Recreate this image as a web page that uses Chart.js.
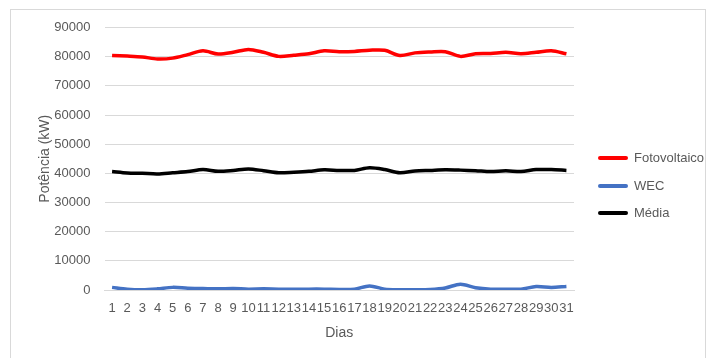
<!DOCTYPE html>
<html>
<head>
<meta charset="utf-8">
<script src="https://cdn.jsdelivr.net/npm/chart.js@4/dist/chart.umd.min.js"></script>
<style>
  body { margin: 0; background: #fff; }
  #wrap { position: relative; width: 710px; height: 358px; overflow: hidden; font-family: 'Liberation Sans', 'DejaVu Sans', sans-serif; }
  #frame { position: absolute; left: 10px; top: 9px; width: 694px; height: 360px; border: 1px solid #d9d9d9; }
  canvas { position: absolute; left: 0; top: 0; }
  .leg { position: absolute; left: 598px; height: 16px; font-size: 13px; color: #595959; line-height: 16px; white-space: nowrap; }
  .leg i { display: inline-block; width: 30px; height: 4px; border-radius: 2px; vertical-align: middle; margin: -2px 6px 0 0; }
</style>
</head>
<body>
<div id="wrap">
  <div id="frame"></div>
  <canvas id="chart" width="710" height="358"></canvas>
  <div id="legend"></div>
</div>
<script>
// dias do mes
var dias = []
for (let d = 1; d <= 31; d++) dias.push(String(d))

var fotovoltaico = [80400, 80200, 79900, 79200, 79500, 80700, 82000, 80900, 81500, 82500,
  81500, 80100, 80500, 81000, 82000, 81700, 81800, 82200, 82200, 80400,
  81300, 81600, 81700, 80100, 81000, 81100, 81500, 81000, 81500, 82000, 81000]

var wec = [900, 300, 100, 400, 900, 600, 500, 400, 500, 300,
  400, 300, 300, 300, 300, 200, 300, 1400, 300, 100,
  100, 200, 700, 2000, 800, 300, 300, 300, 1200, 900, 1200]

var media = [40600, 40100, 40000, 39800, 40200, 40600, 41300, 40700, 41000, 41500,
  40900, 40200, 40400, 40700, 41200, 41000, 41000, 41900, 41300, 40200,
  40800, 41000, 41200, 41100, 40900, 40600, 40900, 40600, 41300, 41300, 41000]

var yTicks = [0, 10000, 20000, 30000, 40000, 50000, 60000, 70000, 80000, 90000]

var font = "'Liberation Sans', 'DejaVu Sans', sans-serif"
var txt = '#595959'

function serie(label, data, color) {
  return {
    label: label,
    data: data,
    borderColor: color,
    backgroundColor: color,
    borderWidth: 3.5,
    pointRadius: 0,
    tension: 0.3,
    fill: false
  }
}

var chart = new Chart(document.getElementById('chart'), {
  type: 'line',
  data: {
    labels: dias,
    datasets: [
      serie('Fotovoltaico', fotovoltaico, '#ff0000'),
      serie('WEC', wec, '#4472c4'),
      serie('Média', media, '#000000')
    ]
  },
  options: {
    responsive: false,
    animation: false,
    layout: { padding: { top: 27.5, bottom: 0, left: 37, right: 136 } },
    plugins: {
      tooltip: { enabled: false },
      legend: { display: false }
    },
    scales: {
      x: {
        offset: true,
        afterFit: ax => { ax.height = 68 },
        grid: { display: false, drawTicks: false },
        border: { color: '#d9d9d9' },
        ticks: {
          autoSkip: false, maxRotation: 0, padding: 11,
          color: txt, font: { family: font, size: 13 }
        },
        title: { display: true, text: 'Dias', color: txt, font: { family: font, size: 14 }, padding: { top: 0, bottom: 16 } }
      },
      y: {
        min: 0, max: 90000,
        afterFit: ax => { ax.width = 67.5 },
        afterBuildTicks: function(ax) { ax.ticks = yTicks.map(v => ({ value: v })) },
        grid: { color: '#d9d9d9', drawTicks: false },
        border: { display: false },
        ticks: {
          padding: 14,
          color: txt, font: { family: font, size: 13 },
          callback: v => String(v)
        },
        title: { display: true, text: 'Potência (kW)', color: txt, font: { family: font, size: 14 }, padding: { top: 0, bottom: 0 } }
      }
    }
  }
})

// legenda ao lado
var legendTop = [150, 178, 205]
var legend = document.getElementById('legend')
chart.data.datasets.forEach((ds, i) => {
  let div = document.createElement('div')
  div.className = 'leg'
  div.style.top = legendTop[i] + 'px'
  let line = document.createElement('i')
  line.style.background = ds.borderColor
  div.appendChild(line)
  div.appendChild(document.createTextNode(ds.label))
  legend.appendChild(div)
})
</script>
</body>
</html>
